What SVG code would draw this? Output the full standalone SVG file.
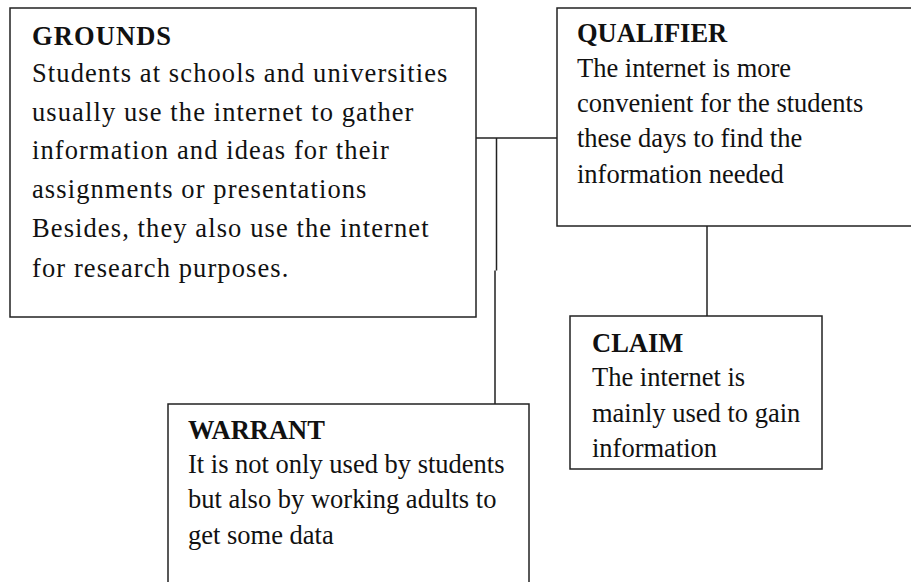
<svg xmlns="http://www.w3.org/2000/svg" width="911" height="582" viewBox="0 0 911 582">
<style>
.box{fill:#fff;stroke:#222;stroke-width:1.5}
.con{fill:none;stroke:#222;stroke-width:1.5}
text{font-family:"Liberation Serif","Times New Roman",serif;font-size:26.5px;fill:#111}
.t{font-weight:bold}
.g{letter-spacing:1.1px}
</style>
<rect width="911" height="582" fill="#fff"/>
<g id="connectors">
<path class="con" d="M476 138H557"/>
<path class="con" d="M496.5 138V270.5M495 270.5V404"/>
<path class="con" d="M707 226V316"/>
</g>
<g id="grounds">
<rect class="box" x="10" y="8" width="466" height="309"/>
<text class="t g" x="32" y="45">GROUNDS</text>
<text class="g" x="32" y="82">Students at schools and universities</text>
<text class="g" x="32" y="121">usually use the internet to gather</text>
<text class="g" x="32" y="159">information and ideas for their</text>
<text class="g" x="32" y="198">assignments or presentations</text>
<text class="g" x="32" y="237">Besides, they also use the internet</text>
<text class="g" x="32" y="277">for research purposes.</text>
</g>
<g id="qualifier">
<rect class="box" x="557" y="8" width="360" height="218"/>
<text class="t" x="577" y="42">QUALIFIER</text>
<text x="577" y="77">The internet is more</text>
<text x="577" y="112">convenient for the students</text>
<text x="577" y="147">these days to find the</text>
<text x="577" y="183">information needed</text>
</g>
<g id="claim">
<rect class="box" x="570" y="316" width="252" height="153"/>
<text class="t" x="592" y="352">CLAIM</text>
<text x="592" y="386">The internet is</text>
<text x="592" y="421.5">mainly used to gain</text>
<text x="592" y="456.5">information</text>
</g>
<g id="warrant">
<rect class="box" x="168" y="404" width="361" height="190"/>
<text class="t" x="188" y="439">WARRANT</text>
<text x="188" y="473">It is not only used by students</text>
<text x="188" y="508">but also by working adults to</text>
<text x="188" y="544">get some data</text>
</g>
</svg>
